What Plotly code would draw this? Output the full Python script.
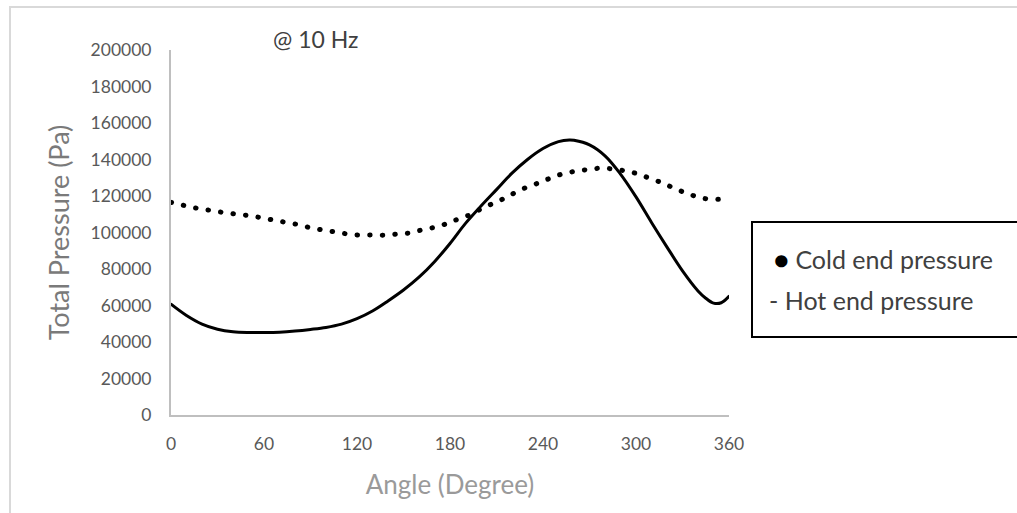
import plotly.graph_objects as go

# Hot end pressure (solid line)
hot_deg = [0, 10, 20, 30, 40, 50, 60, 70, 80, 90, 100, 110, 120, 130, 140, 150, 160, 170,
           180, 190, 200, 210, 220, 230, 240, 250, 257, 260, 270, 280, 290, 300, 310, 320,
           330, 340, 345, 350, 355, 360]
hot_pa = [60700, 54500, 49800, 47000, 45600, 45200, 45200, 45400, 46000, 46900, 48000, 49800,
          52800, 57000, 62500, 68500, 75500, 84000, 94000, 105000, 114500, 123500, 132500,
          140000, 146000, 149800, 150700, 150500, 148000, 142000, 132000, 119500, 105500,
          92000, 79000, 68000, 64000, 61300, 61500, 65000]

# Cold end pressure (dotted line)
cold_deg = [0, 8, 16, 24, 32, 40, 49, 57, 65, 73, 81, 89, 97, 105, 113, 121, 130, 138.5,
            146.6, 155, 163, 171, 179, 186, 194, 201, 208.6, 216, 223, 231, 239, 246, 254,
            262, 270, 278, 286.5, 294.6, 302, 310, 318, 325, 333, 340, 348, 356, 360]
cold_pa = [116500, 114900, 113400, 112300, 111200, 110300, 109400, 108300, 107000, 105700,
           104500, 102800, 101500, 100400, 99300, 98600, 98600, 98600, 99200, 99900, 101700,
           103000, 105200, 107600, 110100, 113400, 116200, 119100, 122300, 125300, 127700,
           130300, 132400, 133700, 134600, 135300, 134600, 133500, 131900, 129300, 126900,
           124000, 121500, 119400, 118200, 118300, 118600]

x_ticks = [0, 60, 120, 180, 240, 300, 360]
y_ticks = list(range(0, 200001, 20000))

FONT = "Lato"
W, H = 1017, 513
L, R, T, B = 171, 288, 50, 98
pw, ph = W - L - R, H - T - B


def px(xp):
    return (xp - L) / pw


def py(yp):
    return (H - B - yp) / ph


fig = go.Figure()
fig.add_trace(go.Scatter(x=cold_deg, y=cold_pa, mode="lines", name="Cold end pressure",
                         line=dict(color="black", width=5, dash="0.5px,12.1px", shape="spline")))
fig.add_trace(go.Scatter(x=hot_deg, y=hot_pa, mode="lines", name="Hot end pressure",
                         line=dict(color="black", width=3, shape="spline")))

fig.update_layout(
    width=W, height=H,
    margin=dict(l=L, r=R, t=T, b=B),
    paper_bgcolor="white", plot_bgcolor="white",
    showlegend=False,
    font=dict(family=FONT, color="#595959"),
    xaxis=dict(range=[0, 360], tickvals=x_ticks, ticktext=[str(v) for v in x_ticks],
               showgrid=False, zeroline=False, showline=True, linecolor="#bfbfbf", linewidth=2,
               ticks="", ticklabelstandoff=12,
               tickfont=dict(family=FONT, size=17.5, color="#595959"),
               title=dict(text="Angle (Degree)", standoff=23,
                          font=dict(family=FONT, size=26, color="#9a9a9a"))),
    yaxis=dict(range=[0, 200000], tickvals=y_ticks, ticktext=[str(v) for v in y_ticks],
               showgrid=False, zeroline=False, showline=True, linecolor="#bfbfbf", linewidth=2,
               ticks="", ticklabelstandoff=14,
               tickfont=dict(family=FONT, size=17.5, color="#595959"),
               title=dict(text="Total Pressure (Pa)", standoff=13,
                          font=dict(family=FONT, size=27, color="#7a7a7a"))),
)

# outer chart border (light gray, top and left visible)
fig.add_shape(type="rect", xref="paper", yref="paper",
              x0=px(10), x1=px(1030), y0=py(7), y1=py(530),
              line=dict(color="#d9d9d9", width=2), fillcolor="rgba(0,0,0,0)", layer="below")

# legend box
fig.add_shape(type="rect", xref="paper", yref="paper",
              x0=px(752), x1=px(1030), y0=py(337), y1=py(222),
              line=dict(color="black", width=2), fillcolor="white")
fig.add_annotation(xref="paper", yref="paper", x=px(772), y=py(259), xanchor="left",
                   yanchor="middle", showarrow=False,
                   text="<span style='color:black'>●</span> Cold end pressure",
                   font=dict(family=FONT, size=25, color="#404040"))
fig.add_annotation(xref="paper", yref="paper", x=px(767), y=py(300), xanchor="left",
                   yanchor="middle", showarrow=False, text="- Hot end pressure",
                   font=dict(family=FONT, size=25, color="#404040"))

# frequency label
fig.add_annotation(xref="paper", yref="paper", x=px(271), y=py(39), xanchor="left",
                   yanchor="middle", showarrow=False, text="@ 10 Hz",
                   font=dict(family=FONT, size=23, color="#404040"))

round_caps = """
document.querySelectorAll('.scatterlayer .js-line').forEach(function(p){
  p.style.strokeLinecap = 'round';
});
"""

fig.write_html("out.html", post_script=round_caps)
